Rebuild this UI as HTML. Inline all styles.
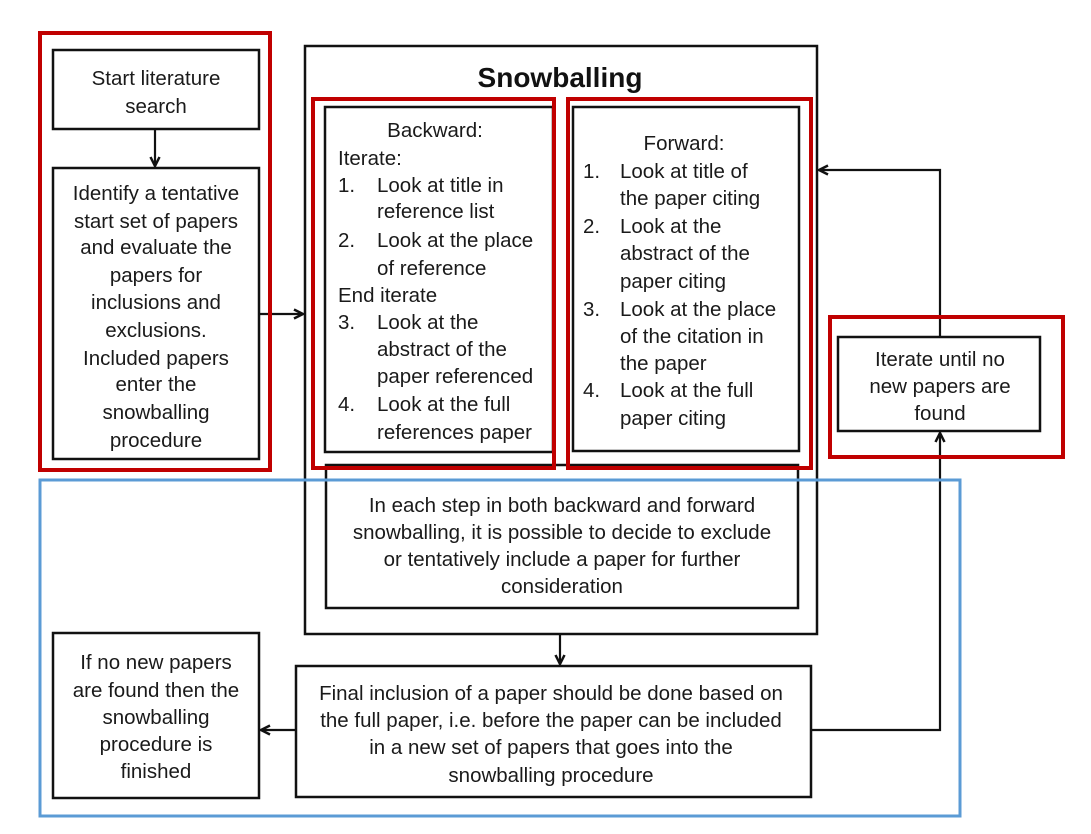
<!DOCTYPE html>
<html><head><meta charset="utf-8"><style>
html,body{margin:0;padding:0;background:#fff;}
svg{display:block}
text{font-family:"Liberation Sans",sans-serif;font-size:20.5px;fill:#1a1a1a;}
.c{text-anchor:middle}
</style></head><body>
<svg width="1091" height="834" viewBox="0 0 1091 834" xmlns="http://www.w3.org/2000/svg">
<defs>
<marker id="a" markerWidth="12" markerHeight="12" refX="10" refY="6" orient="auto" markerUnits="userSpaceOnUse">
<path d="M1,1.5 L10,6 L1,10.5" fill="none" stroke="#111" stroke-width="2.5"/>
</marker>
</defs>
<g fill="none" stroke="#111" stroke-width="2.5">
<rect x="53" y="50" width="206" height="79"/>
<rect x="53" y="168" width="206" height="291"/>
<rect x="305" y="46" width="512" height="588"/>
<rect x="325" y="107" width="228" height="345"/>
<rect x="573" y="107" width="226" height="344"/>
<rect x="326" y="465" width="472" height="143"/>
<rect x="838" y="337" width="202" height="94"/>
<rect x="296" y="666" width="515" height="131"/>
<rect x="53" y="633" width="206" height="165"/>
</g>
<g fill="none" stroke="#111" stroke-width="2.2">
<line x1="155" y1="129" x2="155" y2="166" marker-end="url(#a)"/>
<line x1="259" y1="314" x2="303" y2="314" marker-end="url(#a)"/>
<polyline points="940,337 940,170 819,170" marker-end="url(#a)"/>
<polyline points="811,730 940,730 940,433" marker-end="url(#a)"/>
<line x1="560" y1="634" x2="560" y2="664" marker-end="url(#a)"/>
<line x1="296" y1="730" x2="261" y2="730" marker-end="url(#a)"/>
</g>
<g fill="none" stroke="#c00000" stroke-width="4">
<rect x="40" y="33" width="230" height="437"/>
<rect x="313" y="99" width="241" height="369"/>
<rect x="568" y="99" width="243" height="369"/>
<rect x="830" y="317" width="233" height="140"/>
</g>
<rect x="40" y="480" width="920" height="336" fill="none" stroke="#5b9bd5" stroke-width="3"/>

<text x="560" y="87" class="c" style="font-size:28px;font-weight:bold;fill:#111">Snowballing</text>

<text x="156" y="85" class="c">Start literature</text>
<text x="156" y="113" class="c">search</text>
<text x="156" y="200" class="c">Identify a tentative</text>
<text x="156" y="228" class="c">start set of papers</text>
<text x="156" y="254" class="c">and evaluate the</text>
<text x="156" y="282" class="c">papers for</text>
<text x="156" y="309" class="c">inclusions and</text>
<text x="156" y="337" class="c">exclusions.</text>
<text x="156" y="365" class="c">Included papers</text>
<text x="156" y="391" class="c">enter the</text>
<text x="156" y="419" class="c">snowballing</text>
<text x="156" y="447" class="c">procedure</text>

<text x="435" y="137" class="c">Backward:</text>
<text x="338" y="165">Iterate:</text>
<text x="338" y="192">1.</text><text x="377" y="192">Look at title in</text>
<text x="377" y="218">reference list</text>
<text x="338" y="247">2.</text><text x="377" y="247">Look at the place</text>
<text x="377" y="275">of reference</text>
<text x="338" y="302">End iterate</text>
<text x="338" y="329">3.</text><text x="377" y="329">Look at the</text>
<text x="377" y="356">abstract of the</text>
<text x="377" y="383">paper referenced</text>
<text x="338" y="411">4.</text><text x="377" y="411">Look at the full</text>
<text x="377" y="439">references paper</text>

<text x="684" y="150" class="c">Forward:</text>
<text x="583" y="178">1.</text><text x="620" y="178">Look at title of</text>
<text x="620" y="205">the paper citing</text>
<text x="583" y="233">2.</text><text x="620" y="233">Look at the</text>
<text x="620" y="260">abstract of the</text>
<text x="620" y="288">paper citing</text>
<text x="583" y="316">3.</text><text x="620" y="316">Look at the place</text>
<text x="620" y="343">of the citation in</text>
<text x="620" y="370">the paper</text>
<text x="583" y="397">4.</text><text x="620" y="397">Look at the full</text>
<text x="620" y="425">paper citing</text>

<text x="940" y="366" class="c">Iterate until no</text>
<text x="940" y="393" class="c">new papers are</text>
<text x="940" y="420" class="c">found</text>

<text x="562" y="512" class="c">In each step in both backward and forward</text>
<text x="562" y="539" class="c">snowballing, it is possible to decide to exclude</text>
<text x="562" y="566" class="c">or tentatively include a paper for further</text>
<text x="562" y="593" class="c">consideration</text>

<text x="551" y="700" class="c">Final inclusion of a paper should be done based on</text>
<text x="551" y="727" class="c">the full paper, i.e. before the paper can be included</text>
<text x="551" y="754" class="c">in a new set of papers that goes into the</text>
<text x="551" y="782" class="c">snowballing procedure</text>

<text x="156" y="669" class="c">If no new papers</text>
<text x="156" y="697" class="c">are found then the</text>
<text x="156" y="724" class="c">snowballing</text>
<text x="156" y="751" class="c">procedure is</text>
<text x="156" y="778" class="c">finished</text>
</svg>
</body></html>
